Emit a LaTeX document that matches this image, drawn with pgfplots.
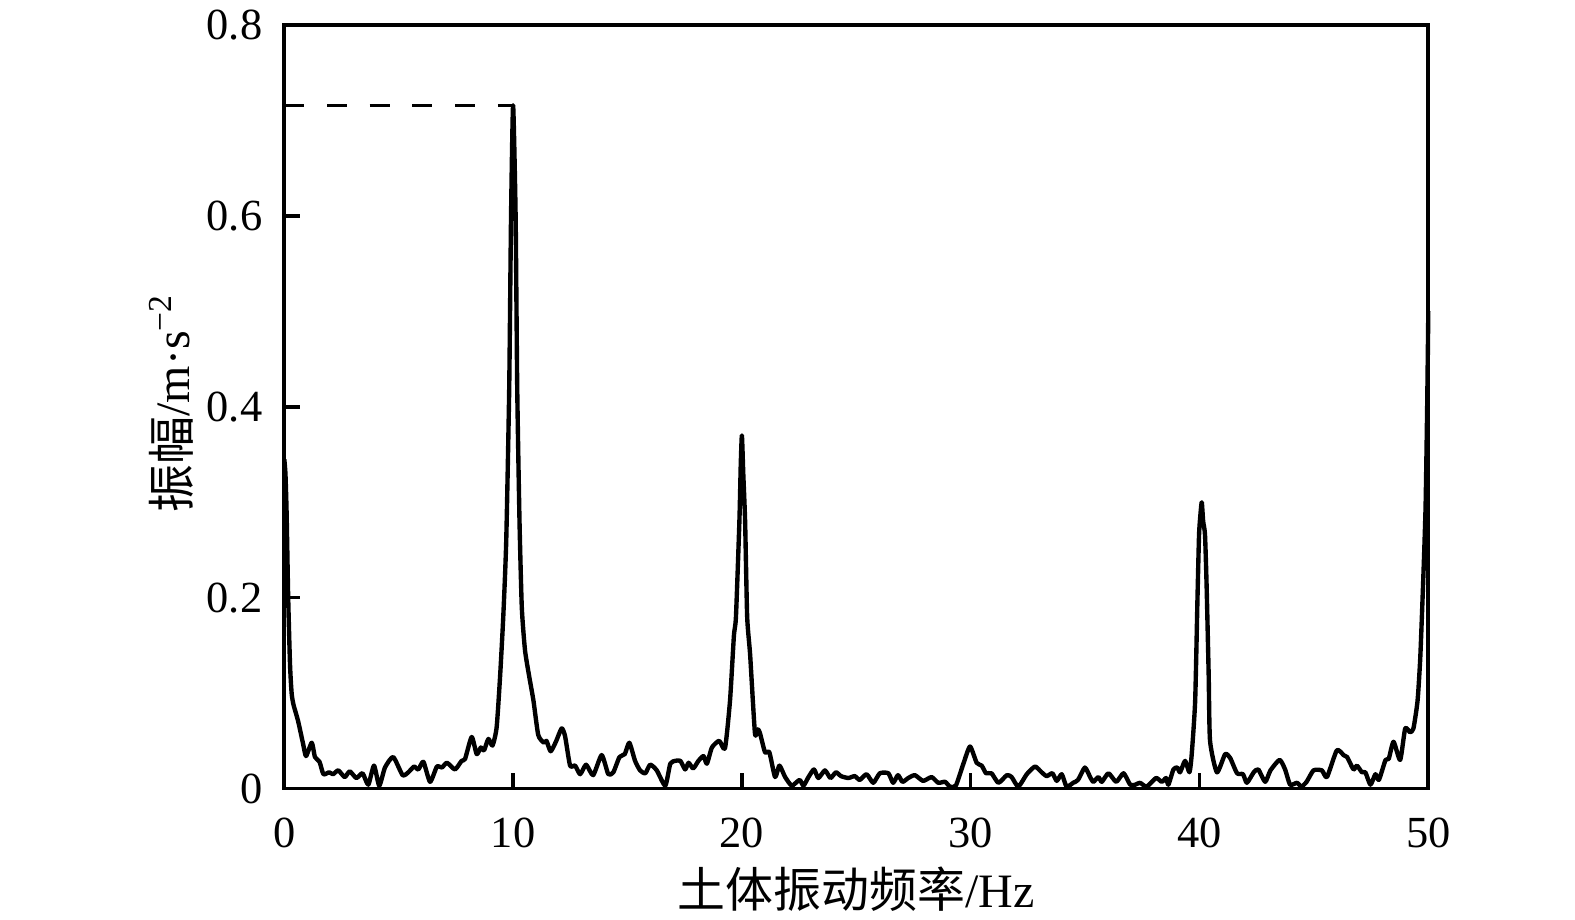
\documentclass[border=0pt]{standalone}
\usepackage{pgfplots}
\pgfplotsset{compat=1.18}
\usepackage{fontspec}
\setmainfont{Liberation Serif}
\newfontfamily\cjk{Noto Sans CJK SC}
\newcommand{\fs}{\fontsize{12.7}{15}\selectfont}
\newcommand{\fl}{\fontsize{13.7}{16}\selectfont}
\begin{document}
\begin{tikzpicture}
\path[use as bounding box] (-81.23pt,-37.29pt) rectangle (368.77pt,225.29pt);
\begin{axis}[
  scale only axis,
  width=326.86pt, height=218.11pt,
  xmin=0, xmax=50, ymin=0, ymax=0.8,
  xtick={0,10,20,30,40,50},
  ytick={0,0.2,0.4,0.6,0.8},
  yticklabels={0,0.2,0.4,0.6,0.8},
  tick pos=left,
  tick align=inside,
  major tick length=4.5pt,
  axis line style={line width=1.05pt},
  every tick/.style={black, line width=1pt},
  /pgf/number format/assume math mode=true,
  tick label style={font=\fs},
  xticklabel style={anchor=north, inner sep=0pt, yshift=-8.2pt},
  yticklabel style={anchor=east, inner sep=0pt, xshift=-6.1pt},
  xlabel={{\cjk 土体振动频率}/Hz},
  ylabel={{\cjk 振幅}/m·s\textsuperscript{−2}},
  label style={font=\fl},
  xlabel style={at={(axis description cs:0.5,-0.132)}, anchor=center},
  ylabel style={at={(axis description cs:-0.099,0.505)}, anchor=center, rotate=0},
  clip=false,
]
\addplot[black, line width=0.95pt, dash pattern=on 5.7pt off 6.5pt] coordinates {(0,0.716) (10,0.716)};
\addplot[black, line width=1.25pt, line join=round, smooth, tension=0.35] coordinates {
(0.00,0.345) (0.05,0.33) (0.10,0.29) (0.17,0.20) (0.25,0.13) (0.32,0.10) (0.40,0.088) (0.60,0.071)
(0.82,0.047) (0.95,0.034) (1.20,0.048) (1.34,0.033) (1.54,0.028) (1.71,0.015) (1.96,0.017) (2.13,0.015)
(2.36,0.019) (2.64,0.012) (2.86,0.018) (3.15,0.011) (3.42,0.016) (3.67,0.004) (3.92,0.024) (4.15,0.003)
(4.40,0.022) (4.76,0.033) (5.17,0.014) (5.42,0.017) (5.67,0.023) (5.86,0.020) (6.08,0.028) (6.37,0.007)
(6.67,0.023) (6.89,0.022) (7.11,0.027) (7.46,0.020) (7.75,0.029) (7.90,0.031) (8.19,0.054) (8.41,0.036)
(8.59,0.043) (8.73,0.040) (8.92,0.052) (9.10,0.045) (9.28,0.064) (9.43,0.117) (9.57,0.18) (9.70,0.26)
(9.83,0.42) (9.91,0.60) (10.00,0.716) (10.11,0.60) (10.18,0.42) (10.28,0.28) (10.38,0.19) (10.52,0.145)
(10.70,0.118) (10.89,0.092) (11.10,0.056) (11.35,0.048) (11.46,0.050) (11.64,0.039) (11.87,0.049) (12.12,0.063)
(12.27,0.055) (12.49,0.024) (12.71,0.024) (12.93,0.015) (13.19,0.025) (13.50,0.014) (13.87,0.035) (14.16,0.015)
(14.38,0.017) (14.65,0.033) (14.88,0.036) (15.08,0.048) (15.33,0.029) (15.55,0.019) (15.78,0.016) (15.99,0.025)
(16.28,0.019) (16.65,0.003) (16.87,0.026) (17.09,0.029) (17.31,0.029) (17.52,0.020) (17.67,0.027) (17.87,0.021)
(18.10,0.029) (18.32,0.034) (18.47,0.026) (18.69,0.043) (19.01,0.050) (19.26,0.042) (19.48,0.092) (19.65,0.16)
(19.74,0.18) (19.89,0.28) (19.95,0.34) (20.00,0.37) (20.06,0.33) (20.14,0.28) (20.23,0.18) (20.36,0.14)
(20.57,0.058) (20.70,0.062) (20.79,0.058) (21.01,0.038) (21.20,0.038) (21.45,0.012) (21.64,0.024) (21.89,0.012)
(22.18,0.003) (22.52,0.009) (22.69,0.003) (22.91,0.012) (23.15,0.020) (23.34,0.011) (23.63,0.019) (23.87,0.011)
(24.11,0.017) (24.33,0.013) (24.65,0.011) (24.93,0.013) (25.15,0.009) (25.45,0.015) (25.74,0.006) (26.03,0.016)
(26.40,0.016) (26.61,0.006) (26.82,0.014) (27.02,0.007) (27.27,0.011) (27.56,0.014) (27.92,0.008) (28.29,0.012)
(28.58,0.006) (28.88,0.007) (29.09,0.002) (29.35,0.003) (29.68,0.026) (29.97,0.044) (30.26,0.027) (30.48,0.024)
(30.67,0.016) (30.91,0.016) (31.21,0.006) (31.58,0.014) (31.79,0.012) (32.08,0.002) (32.45,0.015) (32.81,0.023)
(33.10,0.017) (33.32,0.013) (33.57,0.016) (33.76,0.008) (33.98,0.015) (34.19,0.002) (34.48,0.006) (34.69,0.009)
(34.99,0.022) (35.22,0.012) (35.36,0.007) (35.58,0.012) (35.73,0.007) (36.02,0.016) (36.36,0.007) (36.68,0.016)
(36.97,0.004) (37.19,0.004) (37.40,0.006) (37.69,0.002) (38.10,0.011) (38.35,0.007) (38.54,0.011) (38.64,0.004)
(38.86,0.020) (39.03,0.022) (39.15,0.017) (39.37,0.029) (39.56,0.017) (39.66,0.036) (39.81,0.092) (39.91,0.198)
(39.98,0.266) (40.05,0.29) (40.10,0.30) (40.16,0.28) (40.24,0.266) (40.31,0.213) (40.40,0.12) (40.46,0.050)
(40.76,0.017) (41.12,0.036) (41.34,0.032) (41.64,0.016) (41.90,0.015) (42.07,0.006) (42.37,0.017) (42.57,0.020)
(42.87,0.007) (43.10,0.019) (43.50,0.030) (43.74,0.020) (43.96,0.004) (44.26,0.006) (44.45,0.002) (44.68,0.007)
(44.98,0.019) (45.35,0.019) (45.57,0.012) (46.00,0.040) (46.30,0.035) (46.45,0.033) (46.73,0.020) (46.88,0.024)
(47.10,0.017) (47.25,0.017) (47.47,0.004) (47.69,0.015) (47.84,0.009) (48.13,0.030) (48.27,0.031) (48.48,0.049)
(48.77,0.030) (48.99,0.063) (49.20,0.059) (49.35,0.063) (49.53,0.092) (49.65,0.138) (49.78,0.22) (49.88,0.295)
(49.95,0.40) (50.00,0.50)
};
\end{axis}
\end{tikzpicture}
\end{document}
